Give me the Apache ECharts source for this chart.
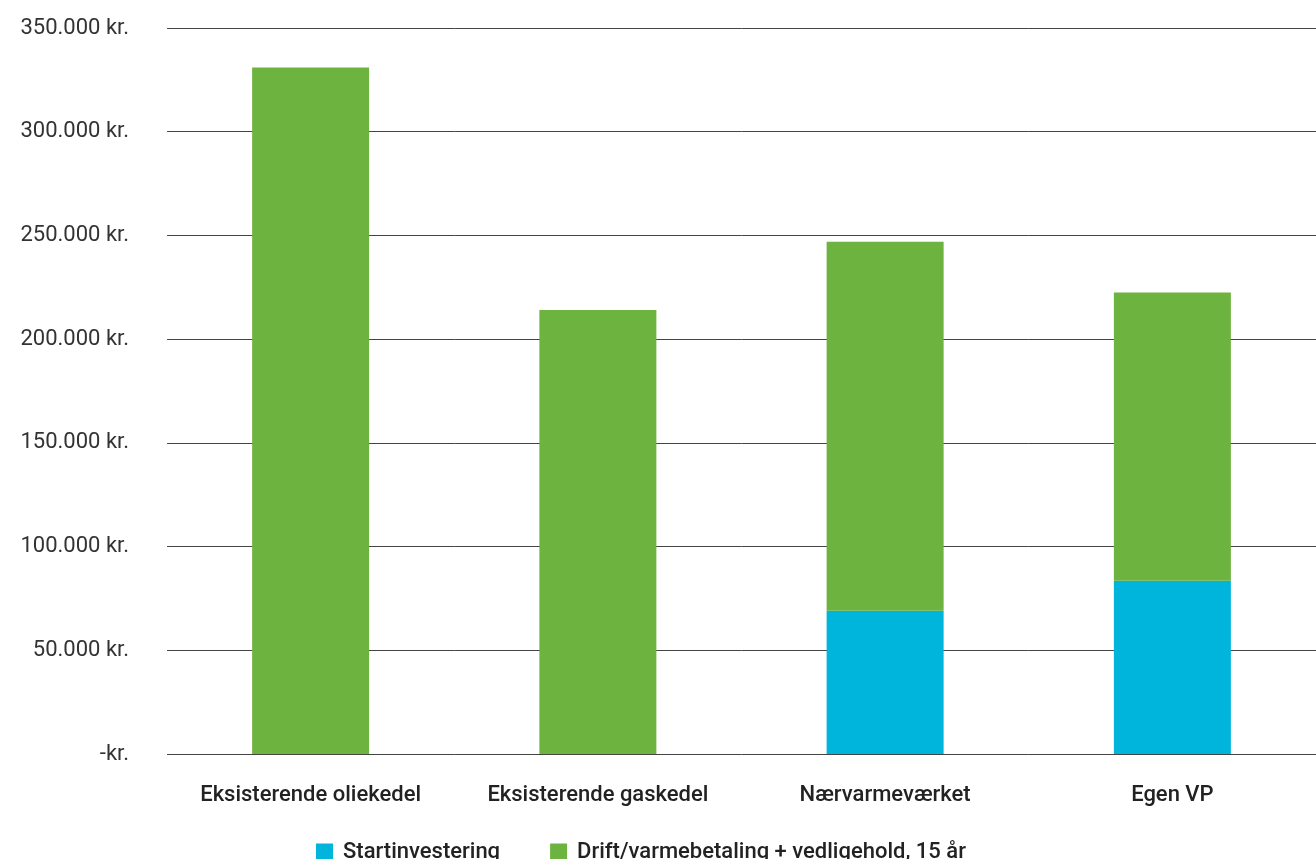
<!DOCTYPE html>
<html>
<head>
<meta charset="utf-8">
<script src="https://cdn.jsdelivr.net/npm/echarts@6/dist/echarts.min.js"></script>
<style>
  html, body { margin: 0; padding: 0; background: #fff; }
  #chart { width: 1316px; height: 859px; }
</style>
</head>
<body>
<div id="chart"></div>
<script>
// Heating options compared over 15 years (kr.)
const categories = ['Eksisterende oliekedel', 'Eksisterende gaskedel', 'Nærvarmeværket', 'Egen VP'];
const startinvestering = [0, 0, 69000, 83500];
const driftVedligehold = [331000, 214000, 178000, 139000];
const seriesNames = ['Startinvestering', 'Drift/varmebetaling + vedligehold, 15 år'];
const colors = ['#00b5dc', '#6db33f'];

function formatKr(v) {
  if (v === 0) return '-kr.';
  return String(v).replace(/\B(?=(\d{3})+(?!\d))/g, '.') + ' kr.';
}

const chart = echarts.init(document.getElementById('chart'));
chart.setOption({
  animation: false,
  color: colors,
  grid: { left: 167, width: 1154, top: 28, bottom: 105 },
  legend: {
    left: 316,
    top: 841,
    padding: 0,
    itemWidth: 17,
    itemHeight: 17,
    itemGap: 50,
    icon: 'rect',
    textStyle: { fontFamily: 'Roboto', fontSize: 22, fontWeight: 500, color: '#222', padding: [0, 0, 0, 5] },
    data: seriesNames
  },
  xAxis: {
    type: 'category',
    data: categories,
    axisLine: { show: false },
    axisTick: { show: false },
    axisLabel: { interval: 0, margin: 30, fontFamily: 'Roboto', fontSize: 22, fontWeight: 500, color: '#222' }
  },
  yAxis: {
    type: 'value',
    min: 0,
    max: 350000,
    interval: 50000,
    axisLine: { show: false },
    axisTick: { show: false },
    splitLine: { lineStyle: { color: '#444', width: 1 } },
    axisLabel: { margin: 38, fontFamily: 'Roboto', fontSize: 22, color: '#333', formatter: formatKr }
  },
  series: [
    { name: seriesNames[0], type: 'bar', stack: 'total', barWidth: 117, data: startinvestering },
    { name: seriesNames[1], type: 'bar', stack: 'total', barWidth: 117, data: driftVedligehold }
  ]
});
</script>
</body>
</html>
